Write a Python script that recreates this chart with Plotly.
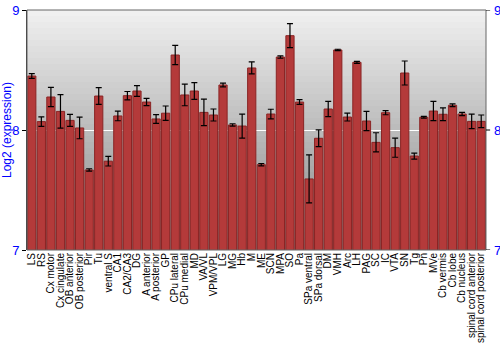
import plotly.graph_objects as go

regions = ["LS", "RS", "Cx motor", "Cx cingulate", "OB anterior", "OB posterior", "Pir", "Tu",
           "ventral S", "CA1", "CA2/CA3", "DG", "A anterior", "A posterior", "GP", "CPu lateral",
           "CPu medial", "MD", "VA/VL", "VPM/VPL", "LG", "MG", "Hb", "M", "ME", "SCN", "MPA", "SO",
           "Pa", "SPa ventral", "SPa dorsal", "DM", "VMH", "Arc", "LH", "PAG", "SC", "IC", "VTA",
           "SN", "Tg", "Pn", "MVe", "Cb vermis", "Cb lobe", "Cb nucleus", "spinal cord anterior",
           "spinal cord posterior"]

expression = [8.45, 8.07, 8.275, 8.155, 8.08, 8.017, 7.667, 8.283,
              7.74, 8.117, 8.286, 8.325, 8.233, 8.092, 8.14, 8.625,
              8.292, 8.325, 8.147, 8.125, 8.375, 8.042, 8.033, 8.517, 7.711, 8.133, 8.608, 8.786,
              8.233, 7.592, 7.931, 8.175, 8.667, 8.108, 8.564, 8.075, 7.897, 8.144, 7.853,
              8.475, 7.783, 8.106, 8.158, 8.131, 8.206, 8.133, 8.072,
              8.072]

error = [0.02, 0.04, 0.08, 0.14, 0.05, 0.09, 0.01, 0.07,
         0.04, 0.04, 0.035, 0.045, 0.03, 0.036, 0.06, 0.08,
         0.09, 0.07, 0.11, 0.05, 0.015, 0.01, 0.10, 0.05, 0.01, 0.04, 0.01, 0.10,
         0.02, 0.20, 0.07, 0.064, 0.006, 0.033, 0.008, 0.08, 0.08, 0.017, 0.08,
         0.10, 0.025, 0.007, 0.08, 0.053, 0.012, 0.014, 0.06,
         0.053]

y_ticks = [7, 8, 9]
y_range = [7, 9]

fig = go.Figure()
fig.add_trace(go.Bar(
    x=regions, y=expression, base=0,
    marker=dict(color="#b43a3a", line=dict(color="#8a2424", width=1)),
    error_y=dict(type="data", array=error, color="black", thickness=1.2, width=3),
    width=0.86,
))

# vertical gradient background
n = 40
shapes = []
for i in range(n):
    t = i / (n - 1)
    c = int(240 - t * (240 - 135))
    shapes.append(dict(type="rect", xref="paper", yref="paper", x0=0, x1=1,
                       y0=1 - (i + 1) / n, y1=1 - i / n, layer="below",
                       fillcolor=f"rgb({c},{c},{c})", line=dict(width=0)))
shapes.append(dict(type="rect", xref="paper", yref="paper", x0=0, x1=1, y0=0, y1=1,
                   line=dict(color="#666666", width=1), layer="above"))

# right-hand tick marks and labels
annotations = []
for v in y_ticks:
    shapes.append(dict(type="line", xref="paper", yref="y", x0=1, x1=1.009, y0=v, y1=v,
                       line=dict(color="black", width=1)))
    annotations.append(dict(xref="paper", yref="y", x=1.012, y=v, text=str(v),
                            showarrow=False, xanchor="left", yanchor="middle",
                            font=dict(size=13, color="blue")))

fig.update_layout(
    width=500, height=350,
    margin=dict(l=27, r=14, t=10, b=100),
    paper_bgcolor="white", plot_bgcolor="rgba(0,0,0,0)",
    showlegend=False, bargap=0.1,
    font=dict(family="Liberation Sans, Arial", size=10, color="black"),
    shapes=shapes, annotations=annotations,
    xaxis=dict(tickangle=-90, tickfont=dict(size=10, color="black"), showgrid=False,
               tickmode="array", tickvals=regions, ticktext=regions,
               ticks="", automargin=False, showline=False),
    yaxis=dict(range=y_range, tickvals=y_ticks, tickfont=dict(size=13, color="blue"),
               showgrid=True, gridcolor="white", gridwidth=1, zeroline=False,
               ticks="outside", ticklen=4, tickcolor="black",
               showline=True, linecolor="#333333", linewidth=1,
               title=dict(text="Log2 (expression)", font=dict(size=12, color="blue"), standoff=2),
               automargin=False),
)

fig.write_html("out.html")
